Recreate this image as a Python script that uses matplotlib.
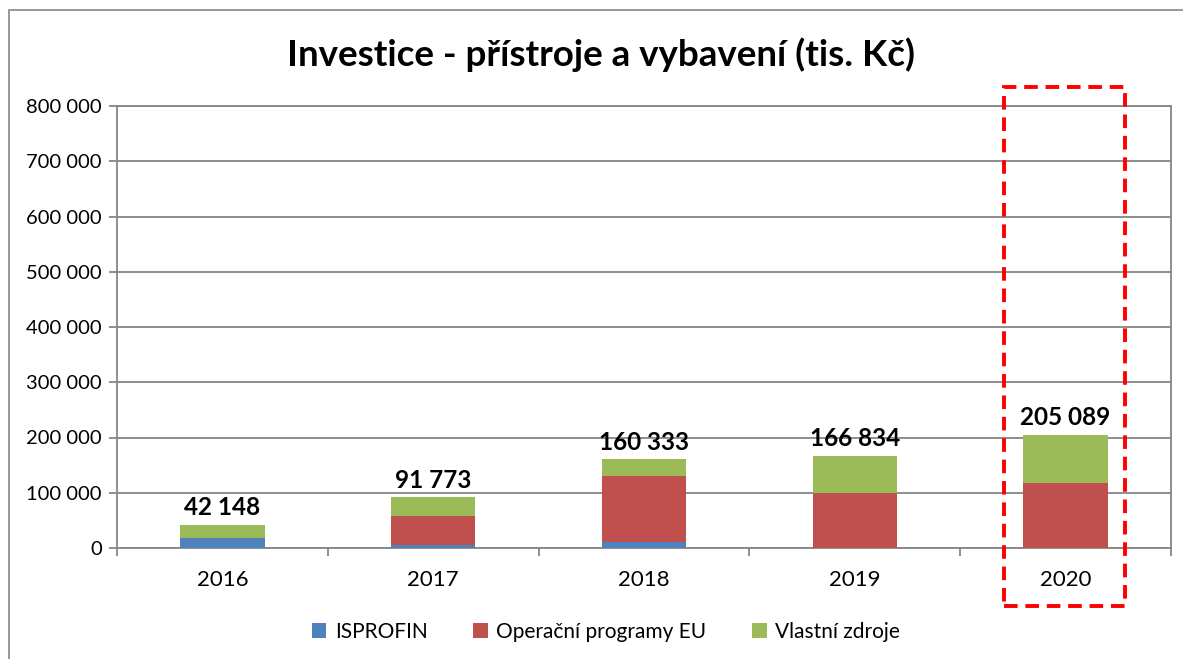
import numpy as np
import matplotlib
matplotlib.use('Agg')
import matplotlib.pyplot as plt
from matplotlib.patches import Rectangle
from matplotlib.ticker import FuncFormatter

plt.rcParams['font.family'] = ['Lato', 'DejaVu Sans']

# data (tis. Kč)
roky = ['2016', '2017', '2018', '2019', '2020']
isprofin = [18500, 5000, 10000, 0, 0]
op_eu = [0, 53000, 120000, 100000, 117000]
vlastni = [23648, 33773, 30333, 66834, 88089]
celkem = [42148, 91773, 160333, 166834, 205089]

barvy = ['#4F81BD', '#C0504D', '#9BBB59']
sede = '#868686'

fig = plt.figure(figsize=(11.83, 6.59), dpi=100)
ax = fig.add_axes([117/1183, 1-548/659, (1171-117)/1183, (548-106)/659])

x = np.arange(len(roky))
sirka = 0.4
ax.bar(x, isprofin, sirka, color=barvy[0], label='ISPROFIN', zorder=3)
ax.bar(x, op_eu, sirka, bottom=isprofin, color=barvy[1], label='Operační programy EU', zorder=3)
spodek = np.array(isprofin) + np.array(op_eu)
ax.bar(x, vlastni, sirka, bottom=spodek, color=barvy[2], label='Vlastní zdroje', zorder=3)

for i, c in enumerate(celkem):
    ax.text(x[i], c + 10000, f'{c:,}'.replace(',', ' '), ha='center', va='bottom',
            fontsize=17.5, fontweight='bold', color='black')

ax.set_xlim(-0.5, 4.5)
ax.set_ylim(0, 800000)
ax.set_yticks(np.arange(0, 800001, 100000))
ax.yaxis.set_major_formatter(FuncFormatter(lambda v, p: f'{int(v):,}'.replace(',', ' ')))
ax.yaxis.grid(True, color=sede, linewidth=1.3, zorder=0)

ax.set_xticks(x)
ax.set_xticklabels(roky)
ax.set_xticks(np.arange(-0.5, 5, 1), minor=True)
ax.tick_params(axis='x', which='major', length=0, pad=16, labelsize=16)
ax.tick_params(axis='x', which='minor', length=6, color=sede, width=1.3, direction='out')
ax.tick_params(axis='y', length=6, color=sede, width=1.3, labelsize=14.5, pad=5)

for s in ax.spines.values():
    s.set_color(sede)
    s.set_linewidth(1.3)

fig.text(601/1183, 1-55/659, 'Investice - přístroje a vybavení (tis. Kč)', fontsize=26.5,
         fontweight='bold', ha='center', va='center')

# červený rámeček kolem roku 2020
ramecek = Rectangle((4 - 0.29, -105000), 0.57, 939000, fill=False, edgecolor='#FF0000',
                    linewidth=2.8, linestyle=(0, (3.5, 2)), clip_on=False, zorder=5)
ax.add_patch(ramecek)

leg = fig.legend(loc='center', bbox_to_anchor=(606/1183, 1-632/659), ncol=3, frameon=False,
                 fontsize=15, handlelength=0.7, handleheight=0.7, columnspacing=2.2,
                 handletextpad=0.4)

# vnější rámeček grafu
fig.add_artist(Rectangle((9/1183, -0.01), 1.1, 1 - 10/659 + 0.01, transform=fig.transFigure,
                         fill=False, edgecolor=sede, linewidth=1.2))

fig.savefig('out.png', dpi=100)
